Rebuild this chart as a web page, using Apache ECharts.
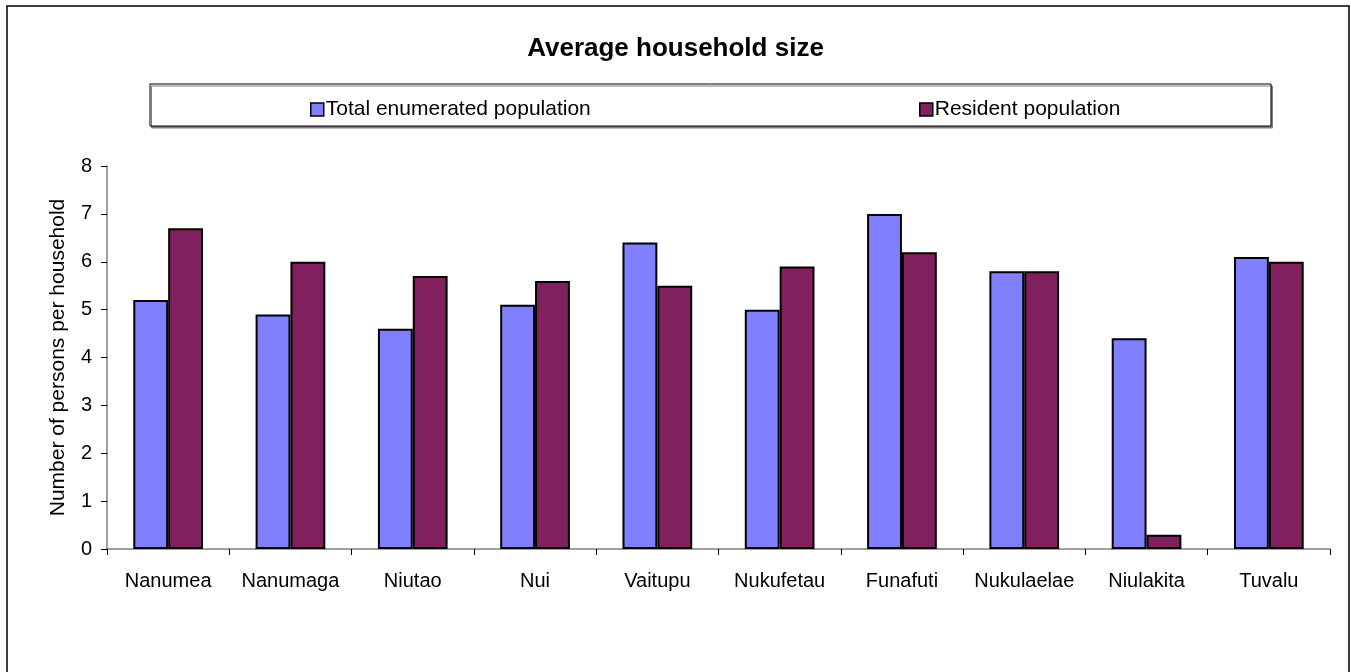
<!DOCTYPE html>
<html>
<head>
<meta charset="utf-8">
<script src="https://cdn.jsdelivr.net/npm/echarts@6/dist/echarts.min.js"></script>
<style>
html,body{margin:0;padding:0;background:#fff;}
#chart{width:1351px;height:672px;}
</style>
</head>
<body>
<div id="chart"></div>
<script>
var titleText = 'Average household size';
var categories = ['Nanumea','Nanumaga','Niutao','Nui','Vaitupu','Nukufetau','Funafuti','Nukulaelae','Niulakita','Tuvalu'];
var seriesNames = ['Total enumerated population','Resident population'];
var totalEnumerated = [5.2, 4.9, 4.6, 5.1, 6.4, 5.0, 7.0, 5.8, 4.4, 6.1];
var residentPop = [6.7, 6.0, 5.7, 5.6, 5.5, 5.9, 6.2, 5.8, 0.3, 6.0];
var yAxisName = 'Number of persons per household';

var FONT = '"Liberation Sans", Arial, sans-serif';
var chart = echarts.init(document.getElementById('chart'));
var legendCommon = {
  top: 94, itemWidth: 13, itemHeight: 13, itemGap: 0, icon: 'rect',
  itemStyle: {borderColor: '#000', borderWidth: 1.5},
  textStyle: {fontFamily: FONT, fontSize: 21, color: '#000', padding: [0,0,0,-3]}, z: 5
};
chart.setOption({
  backgroundColor: '#ffffff',
  animation: false,
  title: {
    text: titleText,
    left: 'center',
    top: 31,
    textStyle: {fontFamily: FONT, fontSize: 26, fontWeight: 'bold', color: '#000'}
  },
  graphic: [
    {type: 'rect', z: -1, shape: {x: 7, y: 6, width: 1342, height: 720},
     style: {fill: '#fff', stroke: '#000', lineWidth: 1.5}},
    {type: 'rect', z: 0, shape: {x: 150, y: 84, width: 1121, height: 42},
     style: {fill: '#fff', stroke: '#000', lineWidth: 1, shadowColor: '#7f7f7f', shadowOffsetX: 1.5, shadowOffsetY: 2, shadowBlur: 0}}
  ],
  legend: [
    Object.assign({data: [seriesNames[0]], left: 305}, legendCommon),
    Object.assign({data: [seriesNames[1]], left: 914}, legendCommon)
  ],
  grid: {left: 107, right: 21, top: 166, bottom: 123, containLabel: false},
  xAxis: {
    type: 'category',
    data: categories,
    boundaryGap: true,
    axisLine: {lineStyle: {color: '#808080', width: 1.5}},
    axisTick: {show: true, length: 6, inside: false, lineStyle: {color: '#000'}},
    axisLabel: {fontFamily: FONT, fontSize: 20, color: '#000', margin: 22, interval: 0}
  },
  yAxis: {
    type: 'value',
    min: 0, max: 8, interval: 1,
    name: yAxisName,
    nameLocation: 'middle',
    nameRotate: 90,
    nameGap: 38,
    nameTextStyle: {fontFamily: FONT, fontSize: 21, color: '#000'},
    axisLine: {show: true, lineStyle: {color: '#808080', width: 1.5}},
    axisTick: {show: true, length: 6, inside: false, lineStyle: {color: '#000'}},
    splitLine: {show: false},
    axisLabel: {fontFamily: FONT, fontSize: 20, color: '#000', margin: 15}
  },
  series: [
    {name: seriesNames[0], type: 'bar', data: totalEnumerated, barGap: '0%', barCategoryGap: '43%',
     itemStyle: {color: '#8080ff', borderColor: '#000', borderWidth: 2}},
    {name: seriesNames[1], type: 'bar', data: residentPop, barGap: '0%', barCategoryGap: '43%',
     itemStyle: {color: '#80205f', borderColor: '#000', borderWidth: 2}}
  ]
});
</script>
</body>
</html>
